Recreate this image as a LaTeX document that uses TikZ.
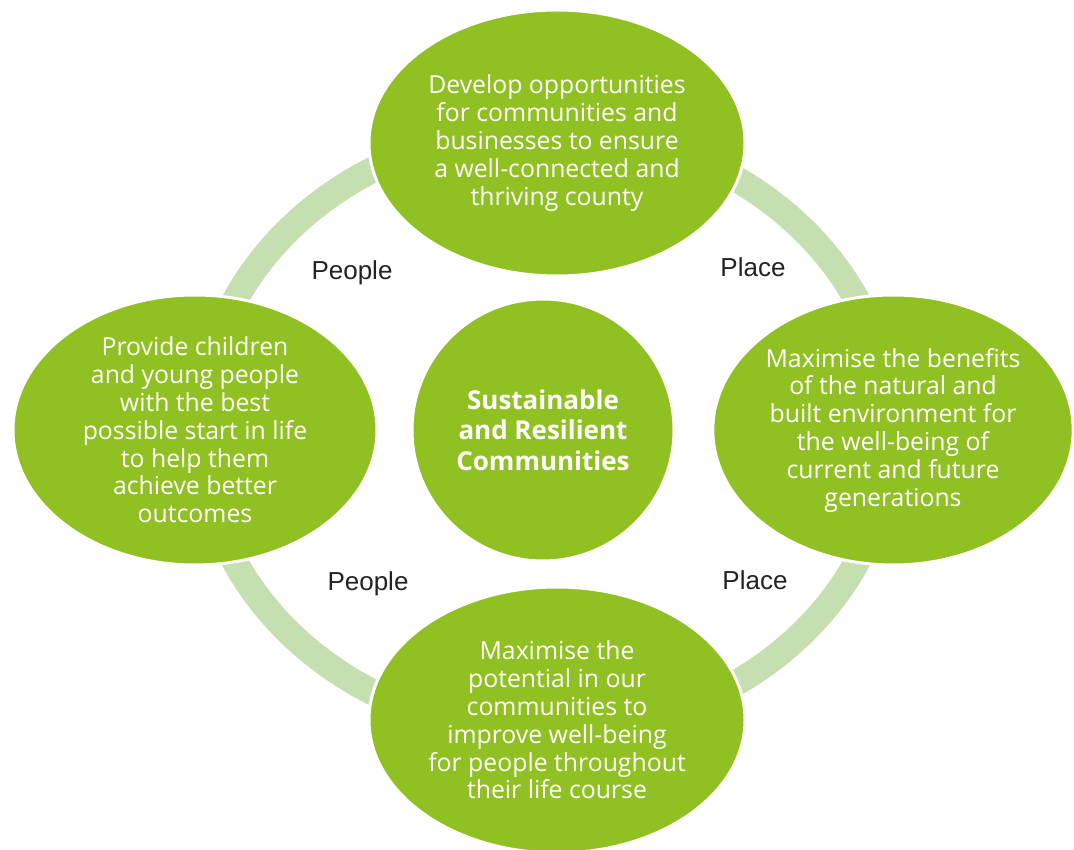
\documentclass[tikz,border=0pt]{standalone}
\usepackage{fontspec}
\setmainfont{Open Sans}
\newfontfamily\labelfont{Liberation Sans}
\usetikzlibrary{shapes.geometric}
\definecolor{leafgreen}{RGB}{145,192,35}
\definecolor{ringgreen}{RGB}{197,223,176}
\definecolor{labelgrey}{RGB}{35,35,35}

\begin{document}
\begin{tikzpicture}
    [x=1pt,y=-1pt,
     aim/.style={ellipse,fill=leafgreen,draw=white,line width=3pt,inner sep=0pt,
       text=white,align=center,font=\fontsize{24.8}{27.8}\selectfont},
     hub/.style={circle,fill=leafgreen,draw=white,line width=3pt,inner sep=0pt,
       minimum size=262pt,text=white,align=center,font=\fontsize{26}{30.5}\selectfont\bfseries},
     tag/.style={anchor=base,text=labelgrey,font=\labelfont\fontsize{26}{28}\selectfont}]
    \useasboundingbox (0,0) rectangle (1074,850);
    \coordinate (ringc) at (546,431);
    \draw [ringgreen,line width=26pt] (ringc) ellipse [x radius=345pt,y radius=302pt];
    \node (develop) at (557,143) [aim,minimum width=376pt,minimum height=266pt]
      {Develop opportunities\\for communities and\\businesses to ensure\\a well-connected and\\thriving county};
    \node (children) at (195,430) [aim,minimum width=364pt,minimum height=270pt]
      {Provide children\\and young people\\with the best\\possible start in life\\to help them\\achieve better\\outcomes};
    \node (environ) at (893,430) [aim,minimum width=360pt,minimum height=270pt]
      {Maximise the benefits\\of the natural and\\built environment for\\the well-being of\\current and future\\generations};
    \node (potential) at (557,720) [aim,minimum width=376pt,minimum height=266pt]
      {Maximise the\\potential in our\\communities to\\improve well-being\\for people throughout\\their life course};
    \node (hub) at (543,430) [hub] {Sustainable\\and Resilient\\Communities};
    \node (peopletop) at (352,280) [tag] {People};
    \node (placetop)  at (753,277) [tag] {Place};
    \node (peoplebot) at (368,590) [tag] {People};
    \node (placebot)  at (755,589) [tag] {Place};
\end{tikzpicture}
\end{document}
